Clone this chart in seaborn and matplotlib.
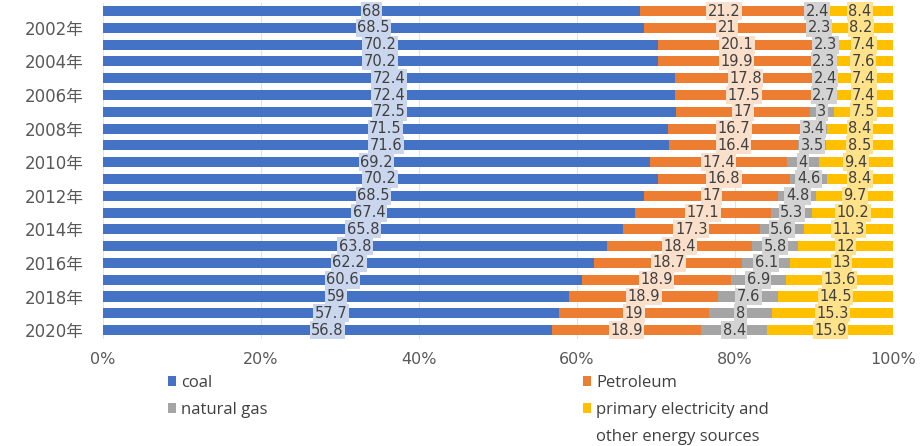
import matplotlib
matplotlib.use("Agg")
import matplotlib.pyplot as plt
import seaborn as sns
import pandas as pd
import numpy as np
from matplotlib.patches import Patch

years = list(range(2001, 2021))
coal = [68, 68.5, 70.2, 70.2, 72.4, 72.4, 72.5, 71.5, 71.6, 69.2,
        70.2, 68.5, 67.4, 65.8, 63.8, 62.2, 60.6, 59, 57.7, 56.8]
petroleum = [21.2, 21, 20.1, 19.9, 17.8, 17.5, 17, 16.7, 16.4, 17.4,
             16.8, 17, 17.1, 17.3, 18.4, 18.7, 18.9, 18.9, 19, 18.9]
natural_gas = [2.4, 2.3, 2.3, 2.3, 2.4, 2.7, 3, 3.4, 3.5, 4,
               4.6, 4.8, 5.3, 5.6, 5.8, 6.1, 6.9, 7.6, 8, 8.4]
other = [8.4, 8.2, 7.4, 7.6, 7.4, 7.4, 7.5, 8.4, 8.5, 9.4,
         8.4, 9.7, 10.2, 11.3, 12, 13, 13.6, 14.5, 15.3, 15.9]

series_names = ["coal", "Petroleum", "natural gas",
                "primary electricity and", "other energy sources"]
colors = ["#4472C4", "#ED7D31", "#A5A5A5", "#FFC000"]
box_colors = ["#C9D6EE", "#FADFCB", "#D3D3D3", "#FFE28A"]

df = pd.DataFrame({
    "year": [f"{y}年" for y in years],
    "coal": coal, "petroleum": petroleum,
    "gas": natural_gas, "other": other,
})
vals = df[["coal", "petroleum", "gas", "other"]].to_numpy(dtype=float)
pct = vals / vals.sum(axis=1, keepdims=True) * 100
cum = np.cumsum(pct, axis=1)
for i, col in enumerate(["c1", "c2", "c3", "c4"]):
    df[col] = cum[:, i]

sns.set_theme(style="white")
plt.rcParams["font.family"] = ["DejaVu Sans", "Noto Sans CJK SC"]

fig = plt.figure(figsize=(9.24, 4.46), dpi=100)
ax = fig.add_axes([0.1115, 0.241, 0.855, 0.753])

# stacked bars: draw cumulative totals from the back to the front
for col, color in zip(["c4", "c3", "c2", "c1"], colors[::-1]):
    sns.barplot(data=df, x=col, y="year", orient="h", color=color,
                width=0.6, ax=ax, saturation=1, linewidth=0)

# value labels centred in each segment
starts = np.hstack([np.zeros((len(df), 1)), cum[:, :-1]])
for r in range(len(df)):
    for k in range(4):
        center = (starts[r, k] + cum[r, k]) / 2
        v = vals[r, k]
        txt = f"{v:g}"
        ax.text(center, r, txt, ha="center", va="center", fontsize=10.5,
                color="#404040",
                bbox=dict(boxstyle="square,pad=0.1", fc=box_colors[k],
                          ec="none"))

ax.set_xlim(0, 100)
ax.set_ylim(len(df) - 0.5, -0.5)
ax.set_xticks(range(0, 101, 20))
ax.set_xticklabels([f"{t}%" for t in range(0, 101, 20)], fontsize=11.5,
                   color="#595959")
tick_pos = list(range(1, len(df), 2))
ax.set_yticks(tick_pos)
ax.set_yticklabels([df["year"][i] for i in tick_pos], fontsize=12,
                   color="#595959")
ax.tick_params(axis="x", pad=10, length=0)
ax.tick_params(axis="y", pad=14, length=0)
ax.set_xlabel("")
ax.set_ylabel("")
ax.xaxis.grid(True, color="#E3E3E3", linewidth=0.8)
ax.set_axisbelow(True)
for s in ax.spines.values():
    s.set_visible(False)

handles = [Patch(facecolor=c, edgecolor="none") for c in colors]
blank = Patch(facecolor="none", edgecolor="none")
leg_kw = dict(frameon=False, handlelength=0.5, handleheight=0.5,
              handletextpad=0.3, labelspacing=0.66,
              borderaxespad=0, borderpad=0,
              prop={"family": "Open Sans", "size": 12})
leg1 = fig.legend([handles[0], handles[2]], [series_names[0], series_names[2]],
                  loc="upper left", bbox_to_anchor=(168 / 924, 1 - 375 / 446),
                  **leg_kw)
leg2 = fig.legend([handles[1], handles[3], blank],
                  [series_names[1], series_names[3], series_names[4]],
                  loc="upper left", bbox_to_anchor=(583 / 924, 1 - 375 / 446),
                  **leg_kw)
for leg in (leg1, leg2):
    for t in leg.get_texts():
        t.set_color("#404040")

fig.savefig("out.png", dpi=100)
